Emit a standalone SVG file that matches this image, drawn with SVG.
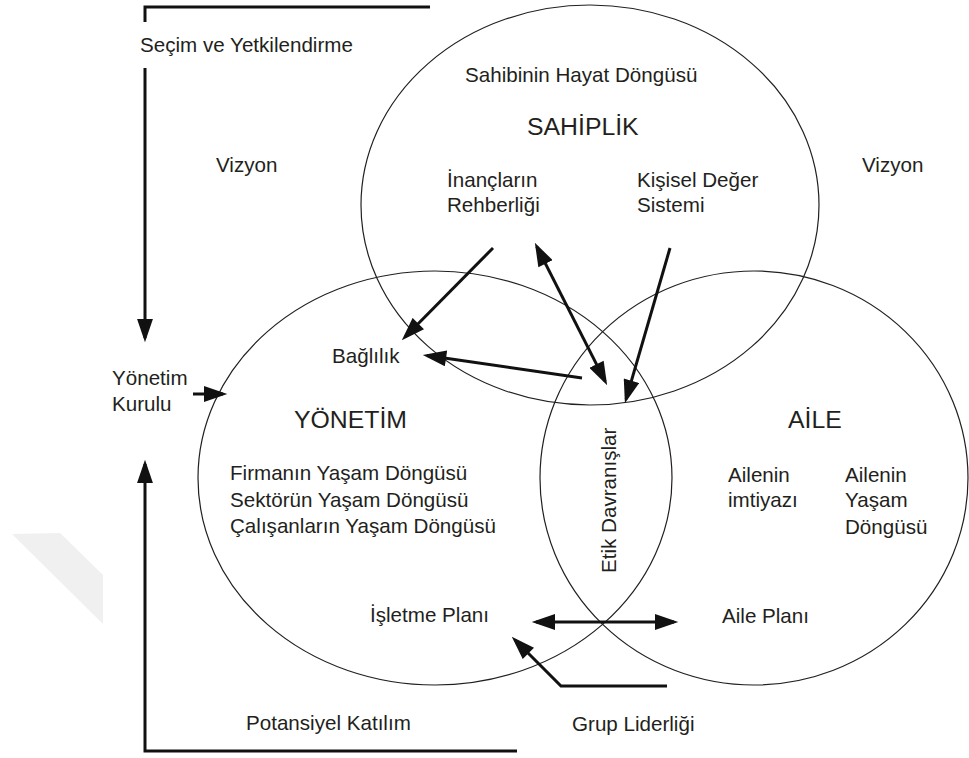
<svg xmlns="http://www.w3.org/2000/svg" width="969" height="758" viewBox="0 0 969 758">
<defs>
<style>
text{font-family:"Liberation Sans","Noto Sans",sans-serif;font-size:20.6px;fill:#231f20}
.h{font-size:24.8px}
.c{fill:none;stroke:#231f20;stroke-width:1.2}
.a{fill:none;stroke:#111;stroke-width:3}
</style>
<marker id="ah" markerUnits="userSpaceOnUse" markerWidth="24" markerHeight="16" refX="18" refY="7.5" orient="auto-start-reverse" viewBox="0 0 22 15">
<path d="M0,0 L22,7.5 L0,15 z" fill="#111"/>
</marker>
</defs>
<rect width="969" height="758" fill="#fff"/>
<polygon points="12,534 60,533 103,575 103,624" fill="#f0f0f0"/>
<g id="sahiplik">
<ellipse class="c" cx="590" cy="205" rx="229" ry="200"/>
<text x="465" y="82">Sahibinin Hayat Döngüsü</text>
<text class="h" x="527" y="135">SAHİPLİK</text>
<text x="447" y="187">İnançların<tspan x="447" dy="25">Rehberliği</tspan></text>
<text x="637" y="187">Kişisel Değer<tspan x="637" dy="25">Sistemi</tspan></text>
</g>
<g id="yonetim">
<ellipse class="c" cx="435" cy="478" rx="237" ry="207"/>
<text x="332" y="363">Bağlılık</text>
<text class="h" x="294" y="428">YÖNETİM</text>
<text x="230" y="480">Firmanın Yaşam Döngüsü<tspan x="230" dy="27">Sektörün Yaşam Döngüsü</tspan><tspan x="230" dy="26">Çalışanların Yaşam Döngüsü</tspan></text>
<text x="370" y="622">İşletme Planı</text>
</g>
<g id="aile">
<ellipse class="c" cx="754" cy="478" rx="214" ry="207"/>
<text class="h" x="788" y="428">AİLE</text>
<text x="728" y="482">Ailenin<tspan x="728" dy="25">imtiyazı</tspan></text>
<text x="845" y="482">Ailenin<tspan x="845" dy="25">Yaşam</tspan><tspan x="845" dy="27">Döngüsü</tspan></text>
<text x="722" y="623">Aile Planı</text>
</g>
<g id="etik">
<text transform="translate(616,573) rotate(-90)">Etik Davranışlar</text>
</g>
<g id="labels">
<text x="140" y="52">Seçim ve Yetkilendirme</text>
<text x="216" y="172">Vizyon</text>
<text x="862" y="172">Vizyon</text>
<text x="112" y="385">Yönetim<tspan x="112" dy="26">Kurulu</tspan></text>
<text x="246" y="730">Potansiyel Katılım</text>
<text x="572" y="731">Grup Liderliği</text>
</g>
<g id="connectors">
<polyline class="a" points="430,7 145,7 145,22"/>
<line class="a" x1="145" y1="68" x2="145" y2="338" marker-end="url(#ah)"/>
<polyline class="a" points="517,751 145,751 145,464" marker-end="url(#ah)"/>
<line class="a" x1="193" y1="394" x2="223" y2="394" marker-end="url(#ah)"/>
<line class="a" x1="493" y1="248" x2="404.8" y2="337.2" marker-end="url(#ah)"/>
<line class="a" x1="536.8" y1="246.6" x2="605.2" y2="381.4" marker-start="url(#ah)" marker-end="url(#ah)"/>
<line class="a" x1="582" y1="378" x2="427" y2="355.6" marker-end="url(#ah)"/>
<line class="a" x1="670" y1="248" x2="626.1" y2="399.2" marker-end="url(#ah)"/>
<line class="a" x1="536" y1="622" x2="674" y2="622" marker-start="url(#ah)" marker-end="url(#ah)"/>
<polyline class="a" points="667,686 561,686 514.8,639.8" marker-end="url(#ah)"/>
</g>
</svg>
